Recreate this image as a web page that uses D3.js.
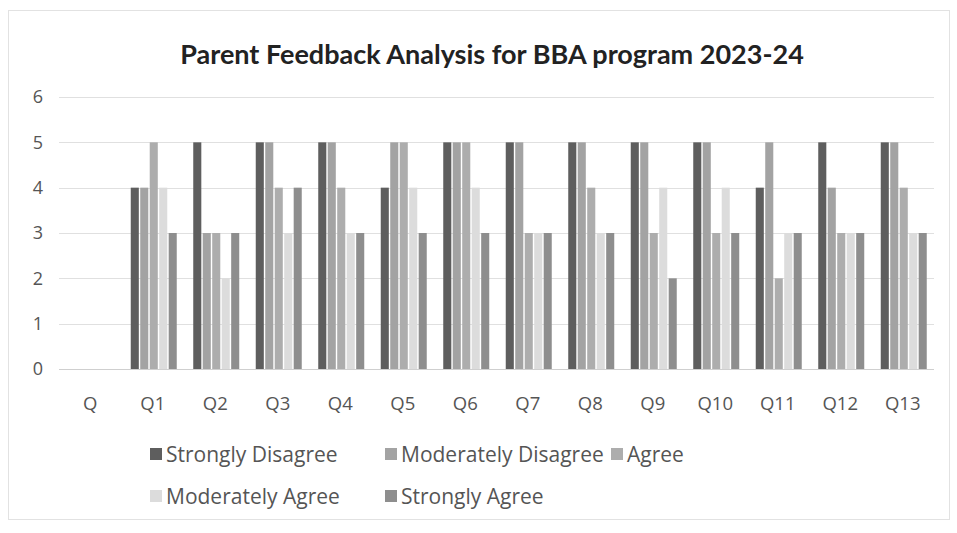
<!DOCTYPE html>
<html><head><meta charset="utf-8">
<script src="https://cdn.jsdelivr.net/npm/d3@7"></script>
<style>body{margin:0;background:#fff}svg{display:block}</style>
</head><body>
<svg id="c" width="957" height="533"></svg>
<script>
const categories = ["Q","Q1","Q2","Q3","Q4","Q5","Q6","Q7","Q8","Q9","Q10","Q11","Q12","Q13"];
const seriesNames = ["Strongly Disagree","Moderately Disagree","Agree","Moderately Agree","Strongly Agree"];
const stronglyDisagree   = [null,4,5,5,5,4,5,5,5,5,5,4,5,5];
const moderatelyDisagree = [null,4,3,5,5,5,5,5,5,5,5,5,4,5];
const agree              = [null,5,3,4,4,5,5,3,4,3,3,2,3,4];
const moderatelyAgree    = [null,4,2,3,3,4,4,3,3,4,4,3,3,3];
const stronglyAgree      = [null,3,3,4,3,3,3,3,3,2,3,3,3,3];
const yTicks = [0,1,2,3,4,5,6];
const colors = ["#5e5e5e","#a3a3a3","#adadad","#dcdcdc","#8e8e8e"];
const title = "Parent Feedback Analysis for BBA program 2023-24";

const series = [stronglyDisagree,moderatelyDisagree,agree,moderatelyAgree,stronglyAgree];
const svg = d3.select("#c");
const font = "'Open Sans', Lato, sans-serif";

svg.append("rect").attr("x",8.5).attr("y",10.5).attr("width",941).attr("height",509)
  .attr("fill","#fff").attr("stroke","#e2e2e2");

const x = d3.scaleBand().domain(categories).range([59,934]).paddingInner(0).paddingOuter(0);
const y = d3.scaleLinear().domain([0,6]).range([369,97]);
const xs = d3.scaleBand().domain(seriesNames).range([0,46]).paddingInner(0.15);

// gridlines
svg.append("g").selectAll("line").data(yTicks).join("line")
  .attr("x1",59).attr("x2",934).attr("y1",d=>Math.round(y(d))+0.5).attr("y2",d=>Math.round(y(d))+0.5)
  .attr("stroke",d=>d===0?"#cfcfcf":"#e0e0e0").attr("stroke-width",1);

// y axis
const ya = d3.axisLeft(y).tickValues(yTicks).tickFormat(d3.format("d")).tickSize(0).tickPadding(16);
svg.append("g").attr("transform","translate(59,0)").call(ya)
  .call(g=>g.select(".domain").remove())
  .selectAll("text").attr("font-family",font).attr("font-size",18).attr("fill","#555");

// x axis
const xa = d3.axisBottom(x).tickSize(0).tickPadding(28);
svg.append("g").attr("transform","translate(0,369)").call(xa)
  .call(g=>g.select(".domain").remove())
  .selectAll("text").attr("font-family",font).attr("font-size",18.5).attr("fill","#555");

// bars
const groups = svg.append("g");
series.forEach((vals,si)=>{
  groups.append("g").selectAll("rect")
    .data(categories.map((c,i)=>({c,v:vals[i]})).filter(d=>d.v!=null))
    .join("rect")
    .attr("x",d=>x(d.c)+x.bandwidth()/2-23+1+xs(seriesNames[si]))
    .attr("y",d=>y(d.v))
    .attr("width",xs.bandwidth())
    .attr("height",d=>y(0)-y(d.v))
    .attr("fill",colors[si]);
});

// title
svg.append("text").attr("x",492).attr("y",64).attr("text-anchor","middle")
  .attr("font-family","Lato, sans-serif").attr("font-weight","bold").attr("font-size",27).attr("fill","#222")
  .text(title);

// legend
const legendPos = [[150,455],[385,455],[611,455],[150,497],[385,497]];
const lg = svg.append("g");
seriesNames.forEach((n,i)=>{
  const [lx,ly]=legendPos[i];
  lg.append("rect").attr("x",lx).attr("y",ly-7).attr("width",12).attr("height",12).attr("fill",colors[i]);
  lg.append("text").attr("x",lx+16).attr("y",ly+7).attr("font-family",font).attr("font-size",21)
    .attr("fill","#555").text(n);
});
</script>
</body></html>
